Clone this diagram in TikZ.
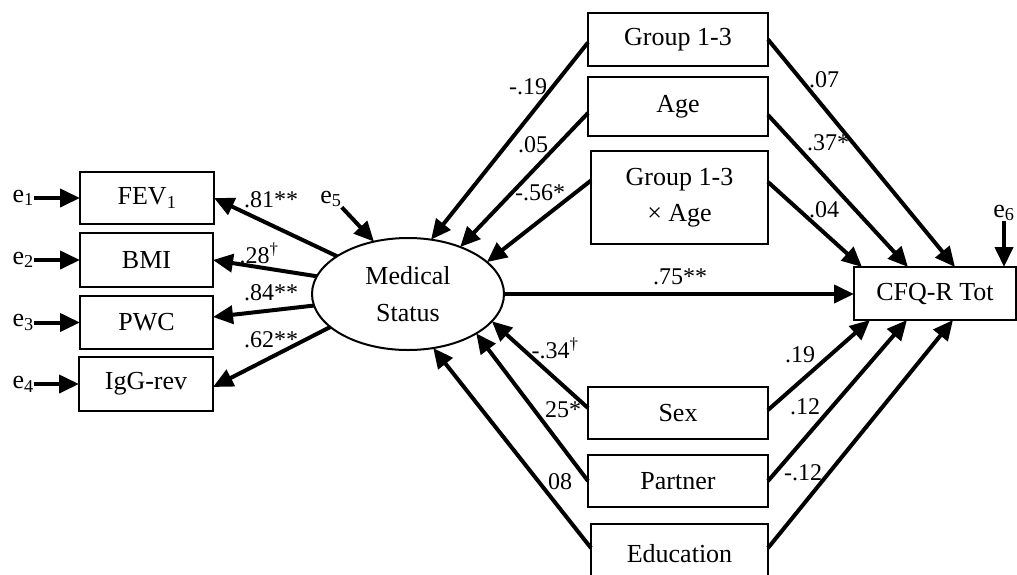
\documentclass[tikz,border=0pt]{standalone}
\usepackage{fontspec}
\setmainfont{Liberation Serif}
\usetikzlibrary{arrows.meta,shapes.geometric,calc}
\begin{document}
\begin{tikzpicture}[x=1pt,y=-1pt,
  box/.style={draw,line width=2pt,inner sep=0pt,outer sep=0pt,align=center,font=\fontsize{26}{36}\selectfont},
  lat/.style={draw,ellipse,line width=2pt,inner sep=0pt,outer sep=0pt,align=center,font=\fontsize{26}{37}\selectfont,minimum width=192pt,minimum height=112pt},
  arr/.style={line width=4pt,-{Triangle[length=20pt,width=18pt]}},
  lab/.style={inner sep=0pt,font=\fontsize{24}{28}\selectfont},
  err/.style={inner sep=0pt,font=\fontsize{26}{30}\selectfont}]
\clip (0,0) rectangle (1017,574);
\fill[white] (0,0) rectangle (1017,574);
% left indicator boxes
\node[box,minimum width=134pt,minimum height=52pt] (fev) at (147,198) {FEV\textsubscript{1}};
\node[box,minimum width=133pt,minimum height=54pt] (bmi) at (146.5,260) {BMI};
\node[box,minimum width=133pt,minimum height=53pt] (pwc) at (146.5,322.5) {PWC};
\node[box,minimum width=134pt,minimum height=54pt] (igg) at (146,384) {IgG-rev};
% latent
\node[lat] (med) at (408,294) {Medical\\Status};
% predictor boxes
\node[box,minimum width=180pt,minimum height=53pt] (g13) at (678,39.5) {Group 1-3};
\node[box,minimum width=180pt,minimum height=59pt] (age) at (678,106.5) {Age};
\node[box,minimum width=177pt,minimum height=93pt] (gxa) at (679.5,197.5) {Group 1-3\\× Age};
\node[box,minimum width=180pt,minimum height=52pt] (sex) at (678,413) {Sex};
\node[box,minimum width=180pt,minimum height=52pt] (par) at (678,481) {Partner};
\node[box,minimum width=177pt,minimum height=60pt] (edu) at (679.5,554) {Education};
% outcome
\node[box,minimum width=162pt,minimum height=53pt] (cfq) at (935,293.5) {CFQ-R Tot};
% error terms
\node[err,anchor=east] (e1) at (34,198) {e\textsubscript{1}};
\node[err,anchor=east] (e2) at (34,260) {e\textsubscript{2}};
\node[err,anchor=east] (e3) at (34,322.5) {e\textsubscript{3}};
\node[err,anchor=east] (e4) at (34,384) {e\textsubscript{4}};
\node[err] (e5) at (331,199) {e\textsubscript{5}};
\node[err] (e6) at (1004,213) {e\textsubscript{6}};
% error arrows
\draw[arr] (e1.east) -- (fev.west);
\draw[arr] (e2.east) -- (bmi.west);
\draw[arr] (e3.east) -- (pwc.west);
\draw[arr] (e4.east) -- (igg.west);
\draw[arr] (e5.south east) -- (med.123);
\draw[arr] (e6.south) -- (e6.south |- cfq.north);
% measurement arrows
\draw[arr] (med.152) -- (fev.east);
\draw[arr] (med.169) -- (bmi.east);
\draw[arr] (med.187) -- ([yshift=5.5pt]pwc.east);
\draw[arr] (med.203) -- ([yshift=-3pt]igg.east);
% predictors to medical status
\draw[arr] ([yshift=-3pt]g13.west) -- (med.67);
\draw[arr] ([yshift=-6.5pt]age.west) -- (med.42);
\draw[arr] ([yshift=17pt]gxa.west) -- (med.22);
\draw[arr] ([yshift=5pt]sex.west) -- (med.-18);
\draw[arr] (par.west) -- (med.-30);
\draw[arr] ([yshift=6pt]edu.west) -- (med.-65);
% medical status to outcome
\draw[arr] (med.east) -- (med.east -| cfq.west);
% predictors to outcome
\draw[arr] (g13.east) -- ([xshift=101pt]cfq.north west);
\draw[arr] ([yshift=-8.5pt]age.east) -- ([xshift=54pt]cfq.north west);
\draw[arr] ([yshift=15.5pt]gxa.east) -- ([xshift=8pt]cfq.north west);
\draw[arr] ([yshift=3pt]sex.east) -- ([xshift=16pt]cfq.south west);
\draw[arr] (par.east) -- ([xshift=53pt]cfq.south west);
\draw[arr] ([yshift=6pt]edu.east) -- ([xshift=99pt]cfq.south west);
% coefficient labels
\node[lab] (l81) at (271,200) {.81**};
\node[lab] (l28) at (259,253) {.28\textsuperscript{†}};
\node[lab] (l84) at (271,293) {.84**};
\node[lab] (l62) at (271,340) {.62**};
\node[lab] (l19a) at (528,87) {-.19};
\node[lab] (l05) at (533,145) {.05};
\node[lab] (l56) at (540,193) {-.56*};
\node[lab] (l07) at (824,80) {.07};
\node[lab] (l37) at (828,143) {.37*};
\node[lab] (l04) at (824,210) {.04};
\node[lab] (l75) at (680,277) {.75**};
\node[lab] (l34) at (555,348) {-.34\textsuperscript{†}};
\node[lab] (l25) at (563,410) {25*};
\node[lab] (l08) at (560,482) {08};
\node[lab] (l19b) at (800,355) {.19};
\node[lab] (l12a) at (805,407) {.12};
\node[lab] (l12b) at (803,473) {-.12};
\end{tikzpicture}
\end{document}
